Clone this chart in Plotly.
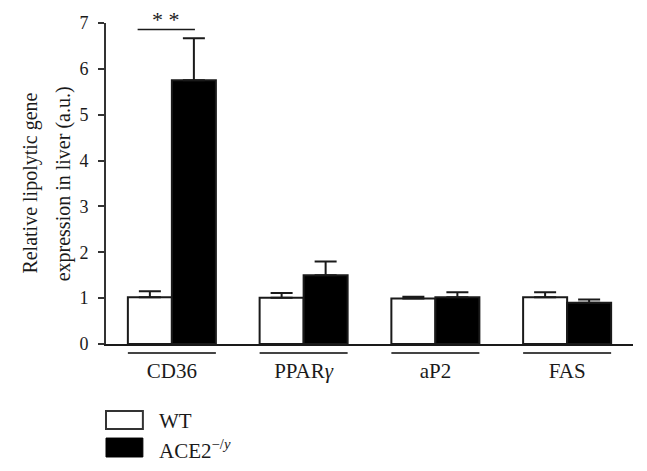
import plotly.graph_objects as go

# data
genes = ["CD36", "PPAR<i>γ</i>", "aP2", "FAS"]
wt_mean = [1.02, 1.01, 0.99, 1.02]
wt_err = [0.13, 0.10, 0.04, 0.11]
ko_mean = [5.75, 1.50, 1.02, 0.90]
ko_err = [0.92, 0.30, 0.11, 0.07]

font = "Liberation Serif"
ink = "#1a1a1a"

fig = go.Figure()
fig.add_trace(go.Bar(
    x=genes, y=wt_mean, name="WT",
    marker=dict(color="white", line=dict(color=ink, width=2)),
    error_y=dict(type="data", symmetric=False, array=wt_err,
                 arrayminus=[0] * len(wt_err), color=ink, thickness=2, width=11),
))
fig.add_trace(go.Bar(
    x=genes, y=ko_mean, name="ACE2<sup>−/y</sup>",
    marker=dict(color="black", line=dict(color=ink, width=2)),
    error_y=dict(type="data", symmetric=False, array=ko_err,
                 arrayminus=[0] * len(ko_err), color=ink, thickness=2, width=11),
))

bargap = 0.332
half = (1 - bargap) / 2

# group underlines below the axis
shapes = []
for i in range(len(genes)):
    shapes.append(dict(type="line", xref="x", yref="paper",
                       x0=i - half, x1=i + half, y0=-0.028, y1=-0.028,
                       line=dict(color="#444", width=2)))

# significance bar for CD36
shapes.append(dict(type="line", xref="x", yref="y", x0=-0.26, x1=0.175,
                   y0=6.86, y1=6.86, line=dict(color=ink, width=1.5)))

# legend drawn by hand (boxes like the original)
shapes.append(dict(type="rect", xref="paper", yref="paper", x0=0, x1=0.07,
                   y0=-0.265, y1=-0.209, fillcolor="white",
                   line=dict(color="#333", width=2)))
shapes.append(dict(type="rect", xref="paper", yref="paper", x0=0, x1=0.07,
                   y0=-0.352, y1=-0.293, fillcolor="black",
                   line=dict(color="black", width=1)))

annotations = [
    dict(text="* *", x=-0.045, y=1.011, xref="x", yref="paper", showarrow=False,
         yanchor="middle", font=dict(family=font, size=22, color=ink)),
    dict(text="Relative lipolytic gene",
         x=-0.144, y=0.5, xref="paper", yref="paper", textangle=-90,
         xanchor="center", yanchor="middle",
         showarrow=False, font=dict(family=font, size=20, color=ink)),
    dict(text="expression in liver (a.u.)",
         x=-0.080, y=0.5, xref="paper", yref="paper", textangle=-90,
         xanchor="center", yanchor="middle",
         showarrow=False, font=dict(family=font, size=20, color=ink)),
    dict(text="WT", x=0.097, y=-0.24, xref="paper", yref="paper",
         xanchor="left", yanchor="middle", showarrow=False,
         font=dict(family=font, size=21, color=ink)),
    dict(text="ACE2<sup>−/<i>y</i></sup>", x=0.097, y=-0.33, xref="paper", yref="paper",
         xanchor="left", yanchor="middle", showarrow=False,
         font=dict(family=font, size=21, color=ink)),
]

# page body has an 8px margin, so the figure is a bit smaller than the window
fig.update_layout(
    width=631, height=455,
    margin=dict(l=98, r=6, t=15, b=119),
    paper_bgcolor="white", plot_bgcolor="white",
    barmode="group", bargap=bargap, bargroupgap=0,
    showlegend=False,
    font=dict(family=font, color=ink),
    shapes=shapes, annotations=annotations,
)
fig.update_xaxes(showline=True, linecolor=ink, linewidth=2, ticks="",
                 tickfont=dict(family=font, size=21, color=ink),
                 ticklabelstandoff=7, showgrid=False, zeroline=False,
                 range=[-0.5, 3.5], automargin=False)
fig.update_yaxes(range=[0, 7], dtick=1, showline=True, linecolor="#333",
                 linewidth=2, ticks="outside", ticklen=6, tickwidth=2,
                 tickcolor="#333", tickfont=dict(family=font, size=18, color=ink),
                 ticklabelstandoff=6, showgrid=False, zeroline=False,
                 automargin=False)

fig.write_html("out.html")
